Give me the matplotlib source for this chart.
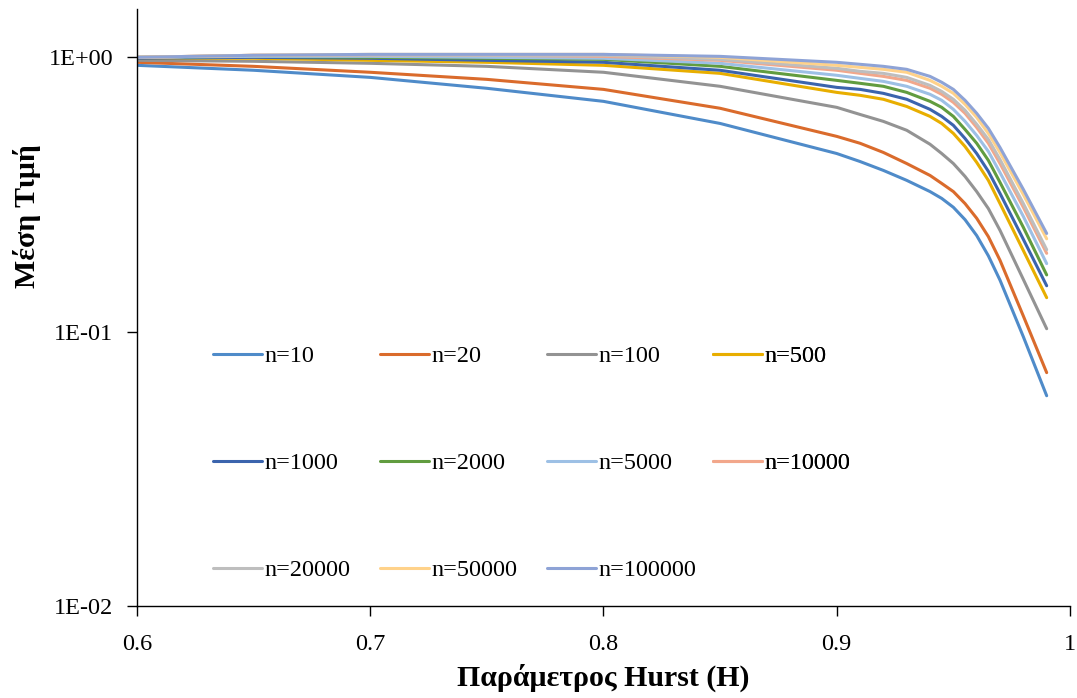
import matplotlib
matplotlib.use("Agg")
import matplotlib.pyplot as plt

# Hurst parameter grid and mean value for each sample size n
hurst = [0.60, 0.65, 0.70, 0.75, 0.80, 0.85, 0.90, 0.91, 0.92, 0.93, 0.94,
         0.945, 0.95, 0.955, 0.96, 0.965, 0.97, 0.98, 0.99]

n10 = [0.935, 0.897, 0.845, 0.771, 0.691, 0.574, 0.446, 0.417, 0.387, 0.356, 0.324,
       0.306, 0.284, 0.256, 0.224, 0.189, 0.154, 0.0958, 0.0584]
n20 = [0.959, 0.927, 0.882, 0.831, 0.764, 0.652, 0.515, 0.486, 0.450, 0.410, 0.371,
       0.347, 0.324, 0.293, 0.259, 0.222, 0.182, 0.114, 0.0709]
n100 = [0.975, 0.967, 0.951, 0.927, 0.882, 0.784, 0.657, 0.619, 0.584, 0.542, 0.482,
        0.446, 0.410, 0.368, 0.324, 0.281, 0.234, 0.155, 0.1025]
n500 = [0.992, 0.992, 0.975, 0.959, 0.935, 0.874, 0.745, 0.727, 0.703, 0.662, 0.609,
        0.574, 0.528, 0.473, 0.414, 0.356, 0.293, 0.1975, 0.133]
n1000 = [0.992, 1.000, 0.992, 0.975, 0.959, 0.897, 0.777, 0.764, 0.739, 0.703, 0.646,
         0.609, 0.565, 0.506, 0.446, 0.384, 0.319, 0.217, 0.147]
n2000 = [1.000, 1.008, 1.000, 0.992, 0.983, 0.927, 0.824, 0.804, 0.784, 0.745, 0.691,
         0.657, 0.609, 0.546, 0.486, 0.421, 0.350, 0.240, 0.161]
n5000 = [1.000, 1.008, 1.008, 1.000, 0.992, 0.951, 0.860, 0.838, 0.817, 0.784, 0.733,
         0.697, 0.646, 0.584, 0.519, 0.454, 0.380, 0.263, 0.177]
n10000 = [1.000, 1.017, 1.017, 1.017, 1.008, 0.975, 0.897, 0.874, 0.852, 0.824, 0.771,
          0.733, 0.685, 0.625, 0.555, 0.486, 0.410, 0.284, 0.193]
n20000 = [1.000, 1.017, 1.017, 1.017, 1.017, 0.983, 0.912, 0.889, 0.874, 0.845, 0.790,
          0.751, 0.703, 0.641, 0.570, 0.502, 0.424, 0.293, 0.199]
n50000 = [1.000, 1.017, 1.025, 1.025, 1.025, 1.000, 0.935, 0.919, 0.904, 0.882, 0.824,
          0.784, 0.739, 0.674, 0.604, 0.528, 0.450, 0.316, 0.218]
n100000 = [1.000, 1.017, 1.025, 1.025, 1.025, 1.008, 0.959, 0.943, 0.927, 0.904, 0.852,
           0.811, 0.764, 0.697, 0.625, 0.551, 0.469, 0.330, 0.228]

series = [n10, n20, n100, n500, n1000, n2000, n5000, n10000, n20000, n50000, n100000]
labels = ["n=10", "n=20", "n=100", "n=500", "n=1000", "n=2000", "n=5000",
          "n=10000", "n=20000", "n=50000", "n=100000"]
colors = ["#4F8BC9", "#DA6B2C", "#939393", "#E8AE00", "#3B64AD", "#619C3F",
          "#9DC0E5", "#F2A78B", "#BEBEBE", "#FFD28A", "#8EA3D6"]

plt.rcParams['font.family'] = ['Liberation Serif', 'DejaVu Serif']

fig = plt.figure(figsize=(10.77, 6.98), dpi=100)
ax = fig.add_axes([0.1272, 0.1318, 0.8663, 0.8553])

lines = []
for y, lab, c in zip(series, labels, colors):
    ln, = ax.plot(hurst, y, color=c, lw=2.2, label=lab,
                  solid_capstyle='round', solid_joinstyle='round')
    lines.append(ln)

ax.set_yscale('log')
ax.set_xlim(0.6, 1.0)
ax.set_ylim(0.01, 1.5)
ax.set_yticks([0.01, 0.1, 1])
ax.set_yticklabels(['1E-02', '1E-01', '1E+00'])
ax.yaxis.set_minor_locator(matplotlib.ticker.NullLocator())
ax.set_xticks([0.6, 0.7, 0.8, 0.9, 1.0])
ax.set_xticklabels(['0.6', '0.7', '0.8', '0.9', '1'])

for s in ['top', 'right']:
    ax.spines[s].set_visible(False)
for s in ['left', 'bottom']:
    ax.spines[s].set_linewidth(1.0)

ax.tick_params(axis='y', direction='out', length=7, width=1, labelsize=17.5, pad=10)
ax.tick_params(axis='x', direction='out', length=7, width=1, labelsize=17.5, pad=13)

ax.set_xlabel('Παράμετρος Hurst (H)', fontsize=21.5, fontweight='bold')
ax.set_ylabel('Μέση Τιμή', fontsize=21.5, fontweight='bold')
ax.xaxis.set_label_coords(0.5, -0.097)
ax.yaxis.set_label_coords(-0.103, 0.653)

# legend: four columns with equal spacing, rows filled left to right
col_x = [0.0815, 0.2605, 0.4394, 0.6174]
for c in range(4):
    idx = list(range(c, len(lines), 4))
    leg = ax.legend([lines[i] for i in idx], [labels[i] for i in idx],
                    loc='upper left', bbox_to_anchor=(col_x[c], 0.437),
                    frameon=False, fontsize=17.5, borderpad=0, borderaxespad=0,
                    handlelength=2.0, handletextpad=0.1, labelspacing=3.5)
    ax.add_artist(leg)

fig.savefig('out.png', dpi=100)
